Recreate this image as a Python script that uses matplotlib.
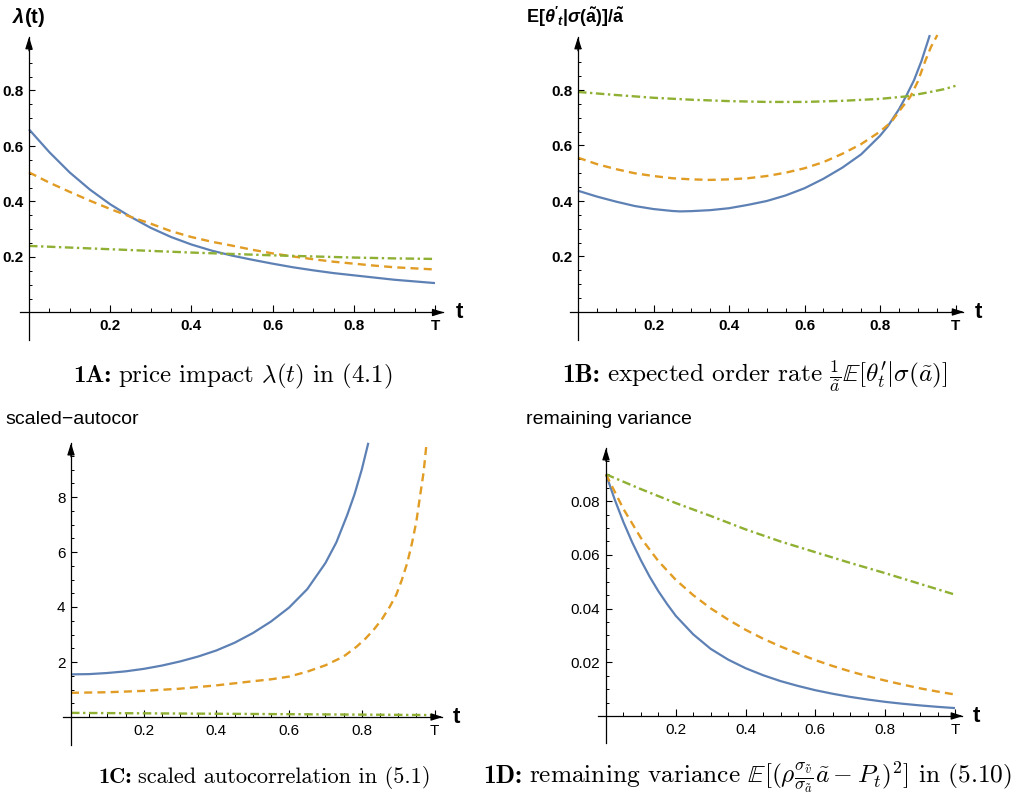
import numpy as np
import matplotlib
matplotlib.use("Agg")
import matplotlib.pyplot as plt

plt.rcParams['font.family'] = ['Liberation Sans', 'DejaVu Sans']
plt.rcParams['mathtext.fontset'] = 'custom'
plt.rcParams['mathtext.rm'] = 'Liberation Sans'
plt.rcParams['mathtext.it'] = 'Liberation Sans:italic'
plt.rcParams['mathtext.bf'] = 'Liberation Sans:bold'
plt.rcParams['mathtext.bfit'] = 'Liberation Sans:italic:bold'

# ---- data ----
# 1A price impact
a_t = [0, .05, .1, .15, .2, .25, .3, .35, .4, .45, .5,
       .55, .6, .65, .7, .75, .8, .85, .9, .95, 1.0]
a_blue = [.66, .578, .505, .443, .39, .345, .305, .272, .245, .223, .205,
          .19, .176, .163, .152, .142, .134, .126, .118, .112, .106]
a_orange = [.505, .468, .435, .403, .373, .345, .320, .293, .272, .255, .241,
            .226, .213, .202, .192, .183, .176, .169, .163, .159, .155]
a_green_t = [0, .1, .2, .3, .4, .5, .6, .7, .8, .9, 1.0]
a_green = [.240, .234, .228, .222, .216, .211, .206, .202, .198, .195, .193]

# 1B expected order rate
b_blue_t = [0, .05, .1, .15, .2, .25, .27, .3, .35, .4, .45, .5, .55, .6, .65,
            .7, .75, .8, .82, .85, .87, .89, .91, .932]
b_blue = [.437, .416, .398, .382, .371, .364, .3625, .3635, .367, .374, .386, .40, .42, .446, .48,
          .52, .568, .635, .668, .73, .78, .835, .905, .998]
b_orange_t = [0, .05, .1, .15, .2, .25, .3, .35, .4, .45, .5, .55, .6, .65,
              .7, .75, .8, .83, .86, .88, .9, .92, .935, .952]
b_orange = [.556, .533, .515, .500, .49, .482, .478, .476, .478, .482, .49, .502, .518, .54,
            .57, .605, .65, .685, .74, .775, .83, .905, .955, .998]
b_green_t = [0, .1, .2, .3, .4, .5, .6, .7, .8, .87, .93, .97, 1.0]
b_green = [.793, .782, .772, .765, .76, .757, .757, .761, .768, .777, .792, .803, .815]

# 1C scaled autocorrelation
c_blue_t = [0, .05, .1, .15, .2, .25, .3, .35, .4, .45, .5, .55, .6, .65,
            .7, .73, .76, .78, .8, .818]
c_blue = [1.55, 1.56, 1.6, 1.66, 1.75, 1.87, 2.02, 2.2, 2.42, 2.7, 3.05, 3.47, 3.98, 4.65,
          5.6, 6.35, 7.35, 8.1, 9.0, 9.97]
c_orange_t = [0, .1, .2, .3, .4, .5, .55, .6, .65, .7, .75, .786, .81, .832, .855,
              .877, .895, .91, .925, .938, .95, .96, .97, .978]
c_orange = [.88, .9, .95, 1.03, 1.15, 1.3, 1.37, 1.47, 1.65, 1.88, 2.2, 2.56, 2.85, 3.16, 3.55,
            4.01, 4.45, 4.98, 5.6, 6.32, 7.1, 8.01, 8.9, 9.93]
c_green_t = [0, .5, 1.0]
c_green = [.15, .11, .07]

# 1D remaining variance
d_blue_t = [0, .025, .05, .075, .1, .125, .15, .175, .2, .25, .3, .35, .4, .45, .5,
            .55, .6, .65, .7, .75, .8, .85, .9, .95, 1.0]
d_blue = [.0900, .0806, .0722, .0647, .0580, .0519, .0465, .0417, .0373, .0304, .0250,
          .0210, .0178, .0152, .0130, .0112, .0096, .00827, .00711, .00613, .00527,
          .00456, .00394, .00341, .00295]
d_orange_t = [0, .05, .1, .15, .2, .25, .3, .35, .4, .45, .5,
              .55, .6, .65, .7, .75, .8, .85, .9, .95, 1.0]
d_orange = [.0900, .0771, .0663, .0577, .0507, .0450, .0401, .0359, .0321, .0288, .0259,
            .0233, .0208, .0186, .0166, .0148, .0132, .0117, .0103, .0091, .0080]
d_green_t = [0, .1, .2, .3, .4, .5, .6, .7, .8, .9, 1.0]
d_green = [.090, .0845, .0793, .0745, .0695, .065, .0610, .0570, .0532, .0492, .0452]

x_ticks = [.2, .4, .6, .8, 1.0]
x_ticklabels = ['0.2', '0.4', '0.6', '0.8', 'T']

BLUE = '#5E81B5'
ORANGE = '#E19C24'
GREEN = '#8FB032'

W, H = 1021, 805
fig = plt.figure(figsize=(W / 100, H / 100), dpi=100)


def panel(x0, y0, sx, sy, ylim, ybot, ytip, yticks, yminor, bold):
    xlim = (-0.04, 1.06)
    left = (x0 + xlim[0] * sx) / W
    bottom = (H - (y0 - ylim[0] * sy)) / H
    ax = fig.add_axes([left, bottom, (xlim[1] - xlim[0]) * sx / W,
                       (ylim[1] - ylim[0]) * sy / H])
    ax.set_xlim(xlim)
    ax.set_ylim(ylim)
    ax.patch.set_alpha(0)
    for s in ['top', 'right']:
        ax.spines[s].set_visible(False)
    ax.spines['left'].set_position(('data', 0))
    ax.spines['bottom'].set_position(('data', 0))
    ax.spines['left'].set_bounds(ybot, ytip)
    ax.spines['bottom'].set_bounds(-0.022, 1.02)
    for s in ['left', 'bottom']:
        ax.spines[s].set_linewidth(0.9)
    head = '-|>,head_length=0.7,head_width=0.22'
    ax.annotate('', xy=(1.023, 0), xytext=(0.99, 0),
                arrowprops=dict(arrowstyle=head, color='black', lw=0.9, shrinkA=0, shrinkB=0))
    ax.annotate('', xy=(0, ytip), xytext=(0, ytip * 0.95),
                arrowprops=dict(arrowstyle=head, color='black', lw=0.9, shrinkA=0, shrinkB=0))
    ax.set_xticks(x_ticks, x_ticklabels)
    ax.set_xticks(np.arange(0.05, 1.001, 0.05), minor=True)
    ax.set_yticks(yticks)
    ax.set_yticks(yminor, minor=True)
    ax.tick_params(axis='x', which='major', direction='in', length=5, width=0.8,
                   pad=5, labelsize=11)
    ax.tick_params(axis='x', which='minor', direction='in', length=3, width=0.7)
    ax.tick_params(axis='y', which='major', direction='in', length=4.5, width=0.8,
                   pad=4, labelsize=11)
    ax.tick_params(axis='y', which='minor', direction='in', length=2.5, width=0.7)
    if bold:
        for lab in ax.get_xticklabels() + ax.get_yticklabels():
            lab.set_fontweight('bold')
    ax.text(1.06, 0, 't', fontsize=16, fontweight='bold', ha='center', va='center')
    return ax


def curves(ax, tb, yb, to, yo, tg, yg):
    ax.plot(tb, yb, color=BLUE, lw=1.6, solid_capstyle='butt', solid_joinstyle='round')
    ax.plot(to, yo, color=ORANGE, lw=1.7, dashes=(3.4, 2.2))
    ax.plot(tg, yg, color=GREEN, lw=1.7, dashes=(3.6, 1.5, 1.0, 1.5))


# 1A
axA = panel(29, 312.5, 406, 277.5, (-0.12, 1.03), -0.1, 0.993,
            [.2, .4, .6, .8], np.arange(0.05, 0.96, 0.05), True)
curves(axA, a_t, a_blue, a_t, a_orange, a_green_t, a_green)

# 1B
axB = panel(578, 312, 377.5, 277.5, (-0.12, 1.03), -0.1, 0.991,
            [.2, .4, .6, .8], np.arange(0.05, 0.96, 0.05), True)
curves(axB, b_blue_t, b_blue, b_orange_t, b_orange, b_green_t, b_green)

# 1C
axC = panel(71, 717, 363.5, 27.5, (-1.2, 10.3), -1.02, 9.96,
            [2, 4, 6, 8], np.arange(0.5, 9.6, 0.5), False)
curves(axC, c_blue_t, c_blue, c_orange_t, c_orange, c_green_t, c_green)

# 1D
axD = panel(606, 716, 349, 2685, (-0.012, 0.103), -0.0101, 0.0998,
            [.02, .04, .06, .08], np.arange(0.005, 0.0951, 0.005), False)
axD.set_yticklabels(['0.02', '0.04', '0.06', '0.08'])
curves(axD, d_blue_t, d_blue, d_orange_t, d_orange, d_green_t, d_green)

# y-axis titles
fig.text(12 / W, 1 - 6 / H, r'$\mathbfit{\lambda}\mathbf{(t)}$', fontsize=14.5,
         ha='left', va='top')
fig.text(526 / W, 1 - 5 / H,
         r'$\mathbf{E[}\mathbfit{\theta}\mathbf{^{\prime}}_{\mathbfit{t}}\mathbf{|}'
         r'\mathbfit{\sigma}\mathbf{(\tilde{a})]/\tilde{a}}$',
         fontsize=13, ha='left', va='top')
fig.text(5 / W, 1 - 411 / H, 'scaled\u2212autocor', fontsize=14, ha='left', va='top')
fig.text(526 / W, 1 - 411 / H, 'remaining variance', fontsize=14, ha='left', va='top')

# captions
renderer = fig.canvas.get_renderer()


def caption(x_px, base_px, bold, rest, target_w):
    size = 17
    for attempt in range(2):
        t1 = fig.text(x_px / W, 1 - base_px / H, bold, family='cmb10', fontsize=size,
                      ha='left', va='baseline')
        bb1 = t1.get_window_extent(renderer)
        t2 = fig.text((bb1.x1 + 0.4 * size) / W, 1 - base_px / H, rest, family='cmr10',
                      math_fontfamily='cm', fontsize=size, ha='left', va='baseline')
        bb2 = t2.get_window_extent(renderer)
        if attempt == 0:
            k = min(max(target_w / (bb2.x1 - bb1.x0), 0.93), 1.08)
            size = size * k
            t1.remove()
            t2.remove()


caption(73, 382, '1A:', r'price impact $\lambda(t)$ in (4.1)', 320)
caption(562, 382, '1B:',
        r'expected order rate $\frac{1}{\tilde{a}}\mathbb{E}[\theta_t^{\prime}|\sigma(\tilde{a})]$',
        386)
caption(98, 783, '1C:', 'scaled autocorrelation in (5.1)', 333)
caption(483, 783, '1D:',
        r'remaining variance $\mathbb{E}[(\rho\frac{\sigma_{\tilde{v}}}{\sigma_{\tilde{a}}}'
        r'\tilde{a}-P_t)^2]$ in (5.10)', 530)

fig.savefig('out.png', dpi=100)
